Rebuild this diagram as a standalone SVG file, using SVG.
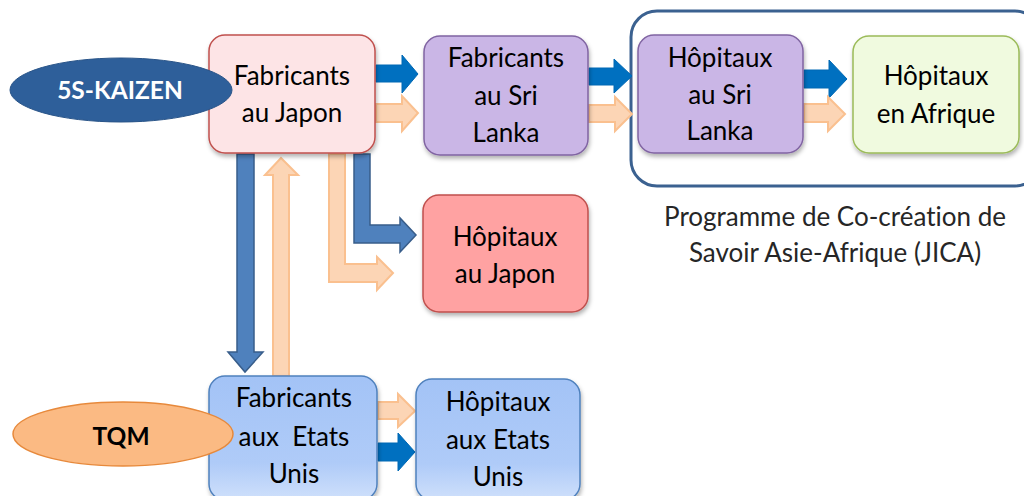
<svg xmlns="http://www.w3.org/2000/svg" width="1024" height="496" viewBox="0 0 1024 496">
  <defs>
    <filter id="shadow" x="-10%" y="-10%" width="125%" height="130%">
      <feDropShadow dx="1" dy="3" stdDeviation="2" flood-color="#000" flood-opacity="0.3"/>
    </filter>
    <linearGradient id="blueFill" x1="0" y1="0" x2="0" y2="1">
      <stop offset="0" stop-color="#a3c3f6"/>
      <stop offset="0.7" stop-color="#afcbf8"/>
      <stop offset="1" stop-color="#cfe0fb"/>
    </linearGradient>
    <style>
      text { font-variant-ligatures: none; font-feature-settings: "liga" 0, "dlig" 0; }
      .box { stroke-width: 1.5; filter: url(#shadow); }
      .pink { fill: #fde4e6; stroke: #c0504d; }
      .lilac { fill: #cab6e6; stroke: #8064a2; }
      .red { fill: #ffa2a2; stroke: #c0504d; }
      .green { fill: #f0fadf; stroke: #9bbb59; }
      .blue { fill: url(#blueFill); stroke: #4f81bd; }
      .label { font-family: Lato, "Open Sans", "Liberation Sans", sans-serif; font-size: 26px; fill: #000; text-anchor: middle; }
      .caption { font-family: Lato, "Open Sans", "Liberation Sans", sans-serif; font-size: 26px; fill: #262626; text-anchor: middle; }
      .badge { font-family: Lato, "Open Sans", "Liberation Sans", sans-serif; font-size: 24.5px; font-weight: bold; text-anchor: middle; }
      .arrowBlue { fill: #0070c0; stroke: #0068b4; stroke-width: 1; }
      .arrowSteel { fill: #4f81bd; stroke: #385d8a; stroke-width: 1.5; }
      .arrowPeach { fill: #fcd5b5; stroke: #fac08f; stroke-width: 2; }
    </style>
  </defs>

  <rect width="1024" height="496" fill="#ffffff"/>

  <!-- JICA programme frame -->
  <g id="programme">
    <rect x="631" y="11" width="410" height="175" rx="26" fill="none" stroke="#3b6190" stroke-width="3"/>
    <text class="caption" x="835" y="226">Programme de Co-création de</text>
    <text class="caption" x="835" y="262">Savoir Asie-Afrique (JICA)</text>
  </g>

  <!-- connectors -->
  <g id="connectors">
    <polygon class="arrowBlue" points="376,65 402,65 402,55 418,74 402,93 402,82 376,82"/>
    <polygon class="arrowPeach" points="376,104 402,104 402,96 418,113 402,131 402,122 376,122"/>
    <polygon class="arrowBlue" points="589,68 614,68 614,59 632,76 614,93 614,85 589,85"/>
    <polygon class="arrowPeach" points="589,105 615,105 615,97 632,114 615,131 615,122 589,122"/>
    <polygon class="arrowBlue" points="804,70 829,70 829,60 847,79 829,98 829,88 804,88"/>
    <polygon class="arrowPeach" points="804,104 828,104 828,97 845,114 828,131 828,122 804,122"/>
    <polygon class="arrowSteel" points="237,154 254,154 254,352 263,352 245,372 228,352 237,352"/>
    <polygon class="arrowPeach" points="273,376 289,376 289,175 298,175 281,158 265,175 273,175"/>
    <polygon class="arrowPeach" points="329,154 345,154 345,264 377,264 377,257 393,273 377,290 377,282 329,282"/>
    <polygon class="arrowSteel" points="354,154 370,154 370,225 400,225 400,218 416,235 400,252 400,243 354,243"/>
    <polygon class="arrowPeach" points="378,402 398,402 398,394 415,411 398,427 398,419 378,419"/>
    <polygon class="arrowBlue" points="378,443 398,443 398,433 415,452 398,471 398,461 378,461"/>
  </g>

  <g id="fab-japon">
    <rect class="box pink" x="209" y="35" width="166" height="118" rx="16"/>
  </g>
  <g id="kaizen">
    <ellipse cx="121" cy="90" rx="111" ry="32" fill="#2e5f9a" stroke="#2a5589" stroke-width="1"/>
    <text class="badge" x="120" y="99" fill="#ffffff">5S-KAIZEN</text>
  </g>
  <g id="fab-japon-label">
    <text class="label" x="292" y="85">Fabricants</text>
    <text class="label" x="292" y="122">au Japon</text>
  </g>

  <g id="fab-srilanka">
    <rect class="box lilac" x="424" y="36" width="164" height="119" rx="16"/>
    <text class="label" x="506" y="67">Fabricants</text>
    <text class="label" x="506" y="105">au Sri</text>
    <text class="label" x="506" y="142">Lanka</text>
  </g>

  <g id="hop-srilanka">
    <rect class="box lilac" x="638" y="35" width="165" height="118" rx="16"/>
    <text class="label" x="720" y="67">Hôpitaux</text>
    <text class="label" x="720" y="104">au Sri</text>
    <text class="label" x="720" y="140">Lanka</text>
  </g>

  <g id="hop-afrique">
    <rect class="box green" x="853" y="36" width="166" height="117" rx="16"/>
    <text class="label" x="936" y="85">Hôpitaux</text>
    <text class="label" x="936" y="123">en Afrique</text>
  </g>

  <g id="hop-japon">
    <rect class="box red" x="423" y="195" width="165" height="117" rx="16"/>
    <text class="label" x="505" y="246">Hôpitaux</text>
    <text class="label" x="505" y="283">au Japon</text>
  </g>

  <g id="fab-usa">
    <rect class="box blue" x="209" y="376" width="168" height="124" rx="16"/>
  </g>
  <g id="tqm">
    <ellipse cx="123" cy="434" rx="110" ry="32" fill="#fbba83" stroke="#e7893b" stroke-width="1.5"/>
    <text class="badge" x="121" y="445" fill="#000000">TQM</text>
  </g>
  <g id="fab-usa-label">
    <text class="label" x="294" y="407">Fabricants</text>
    <text class="label" x="294" y="446" xml:space="preserve">aux  Etats</text>
    <text class="label" x="294" y="483">Unis</text>
  </g>

  <g id="hop-usa">
    <rect class="box blue" x="416" y="379" width="164" height="121" rx="16"/>
    <text class="label" x="498" y="411">Hôpitaux</text>
    <text class="label" x="498" y="449">aux Etats</text>
    <text class="label" x="498" y="486">Unis</text>
  </g>
</svg>
